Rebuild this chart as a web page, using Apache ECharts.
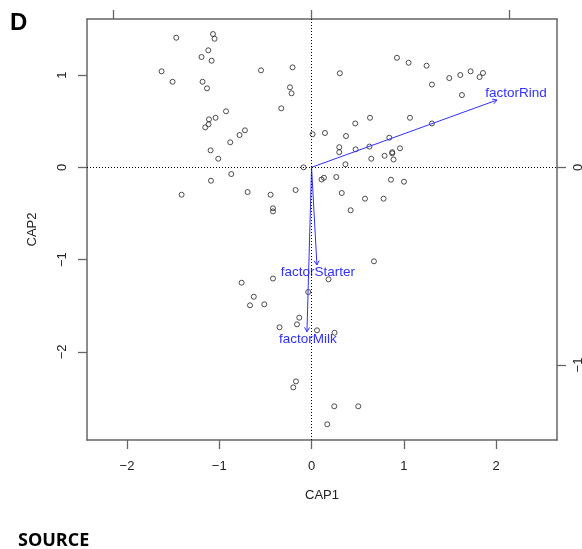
<!DOCTYPE html>
<html><head><meta charset="utf-8">
<script src="https://cdn.jsdelivr.net/npm/echarts@6/dist/echarts.min.js"></script>
<style>html,body{margin:0;padding:0;background:#fff;}#c{width:582px;height:549px;}</style>
</head><body><div id="c"></div>
<script>
// Site scores (CAP1, CAP2)
const cap1 = [
-1.466,-1.068,-1.051,-1.119,-1.192,-1.083,-1.625,-1.506,-1.181,-1.133,
-0.548,-0.206,-0.234,-0.217,-0.328,-0.927,-1.040,-1.112,-1.116,-1.152,
-0.722,-0.780,-0.881,-1.094,-1.011,-0.870,-1.090,-1.408,-0.693,-0.444,
-0.173,-0.418,-0.418,-0.087,-0.758,-0.418,-0.626,-0.036,0.184,-0.667,
-0.512,-0.133,-0.158,-0.347,0.059,0.249,-0.169,-0.198,0.246,0.506,
0.170,0.925,1.051,1.246,0.306,1.492,1.611,1.723,1.857,1.820,
1.304,1.629,0.633,1.066,0.473,1.304,0.011,0.145,0.373,0.842,
0.300,0.300,0.477,0.627,0.958,0.874,0.874,0.791,0.647,0.888,
0.367,0.108,0.134,0.268,0.860,1.001,0.327,0.579,0.780,0.423,
0.676];
const cap2 = [
1.404,1.444,1.393,1.268,1.195,1.155,1.040,0.927,0.927,0.856,
1.051,1.083,0.867,0.802,0.639,0.607,0.537,0.520,0.466,0.433,
0.401,0.350,0.271,0.184,0.093,-0.073,-0.145,-0.297,-0.268,-0.297,
-0.246,-0.444,-0.477,0.000,-1.250,-1.205,-1.402,-1.351,-1.213,-1.495,
-1.484,-1.629,-1.701,-1.733,-1.766,-1.792,-2.319,-2.384,-2.589,-2.589,
-2.784,1.187,1.133,1.101,1.019,0.967,1.000,1.040,1.022,0.978,
0.897,0.783,0.537,0.537,0.475,0.475,0.359,0.372,0.339,0.321,
0.218,0.164,0.195,0.225,0.206,0.164,0.152,0.125,0.093,0.085,
0.033,-0.132,-0.113,-0.105,-0.134,-0.156,-0.278,-0.340,-0.340,-0.465,
-1.018];
// Biplot arrows (in CAP1/CAP2 plot units)
const arrowNames = ['factorRind','factorStarter','factorMilk'];
const arrowCap1 = [2.009, 0.058, -0.050];
const arrowCap2 = [0.729, -1.058, -1.781];
// Tick labels
const xTicks = [-2,-1,0,1,2];
const yTicks = [-2,-1,0,1];
const topTicks = [-1,0,1];
const rightTicks = [-1,0];

const points = cap1.map((v,i)=>[v, cap2[i]]);
const arrows = arrowNames.map((n,i)=>[arrowCap1[i], arrowCap2[i], n]);
// label pixel offsets from arrow tips (style)
const labelOffsets = {factorRind:[19,-7], factorStarter:[1,7], factorMilk:[1,8]};

const AX = '#666', TXT = '#222', BLUE = '#3030ff';
const FONT = '"Liberation Sans", Arial, sans-serif';
const chart = echarts.init(document.getElementById('c'), null, {renderer:'canvas'});
const baseAxis = {
  type:'value', scale:false,
  axisLine:{show:true, onZero:false, lineStyle:{color:AX, width:1.5}},
  splitLine:{show:false},
};
chart.setOption({
  animation:false,
  backgroundColor:'#fff',
  grid:{left:87, right:25, top:19, bottom:109, outerBoundsMode:'none', containLabel:false},
  graphic:[
    {type:'text', left:10, top:11, style:{text:'D', font:'bold 24px "Liberation Sans", Arial, sans-serif', fill:'#000'}},
    {type:'text', left:18, top:532, style:{text:'SOURCE', font:'bold 18px "Open Sans", sans-serif', fill:'#000'}}
  ],
  xAxis:[
    Object.assign({}, baseAxis, {
      position:'bottom', min:-2.433, max:2.659,
      axisTick:{show:true, length:9, customValues:xTicks, lineStyle:{color:AX, width:1.3}},
      axisLabel:{show:true, customValues:xTicks, margin:20, color:TXT, fontSize:13, fontFamily:FONT,
        formatter:v=>String(v).replace('-', '\u2212')},
      name:'CAP1', nameLocation:'middle', nameGap:49,
      nameTextStyle:{color:TXT, fontSize:13, fontFamily:FONT}
    }),
    Object.assign({}, baseAxis, {
      position:'top', min:-1.134, max:1.239,
      axisTick:{show:true, length:9, customValues:topTicks, lineStyle:{color:AX, width:1.3}},
      axisLabel:{show:false}
    })
  ],
  yAxis:[
    Object.assign({}, baseAxis, {
      position:'left', min:-2.954, max:1.607,
      axisTick:{show:true, length:9, customValues:yTicks, lineStyle:{color:AX, width:1.3}},
      axisLabel:{show:true, customValues:yTicks, rotate:90, margin:18, color:TXT, fontSize:13, fontFamily:FONT,
        formatter:v=>String(v).replace('-', '\u2212')},
      name:'CAP2', nameLocation:'middle', nameGap:48,
      nameTextStyle:{color:TXT, fontSize:13, fontFamily:FONT}
    }),
    Object.assign({}, baseAxis, {
      position:'right', min:-1.379, max:0.750,
      axisTick:{show:true, length:9, customValues:rightTicks, lineStyle:{color:AX, width:1.3}},
      axisLabel:{show:true, customValues:rightTicks, rotate:90, margin:15, color:TXT, fontSize:13, fontFamily:FONT,
        formatter:v=>String(v).replace('-', '\u2212')}
    })
  ],
  series:[
    {
      type:'scatter', xAxisIndex:0, yAxisIndex:0, data:points,
      symbol:'circle', symbolSize:5,
      itemStyle:{color:'rgba(255,255,255,0)', borderColor:'#222', borderWidth:1},
      silent:true, z:3,
      markLine:{
        silent:true, symbol:['none','none'], label:{show:false},
        lineStyle:{color:'#000', width:1, type:[1,2]},
        data:[{xAxis:0},{yAxis:0}]
      }
    },
    {
      type:'custom', xAxisIndex:0, yAxisIndex:0, data:arrows, clip:false, silent:true, z:4,
      renderItem:function(params, api){
        const o = api.coord([0,0]);
        const t = api.coord([api.value(0), api.value(1)]);
        const name = arrowNames[params.dataIndex];
        const ang = Math.atan2(t[1]-o[1], t[0]-o[0]);
        const hl = 5, ha = Math.PI/6;
        const h1 = [t[0]-hl*Math.cos(ang-ha), t[1]-hl*Math.sin(ang-ha)];
        const h2 = [t[0]-hl*Math.cos(ang+ha), t[1]-hl*Math.sin(ang+ha)];
        const off = labelOffsets[name] || [0,0];
        return {type:'group', children:[
          {type:'line', shape:{x1:o[0],y1:o[1],x2:t[0],y2:t[1]}, style:{stroke:BLUE, lineWidth:1}},
          {type:'polyline', shape:{points:[h1,t,h2]}, style:{stroke:BLUE, lineWidth:1, fill:null}},
          {type:'text', x:t[0]+off[0], y:t[1]+off[1], style:{text:name, fill:BLUE,
            font:'13.5px "Liberation Sans", Arial, sans-serif', align:'center', verticalAlign:'middle'}}
        ]};
      }
    }
  ]
});
</script></body></html>
